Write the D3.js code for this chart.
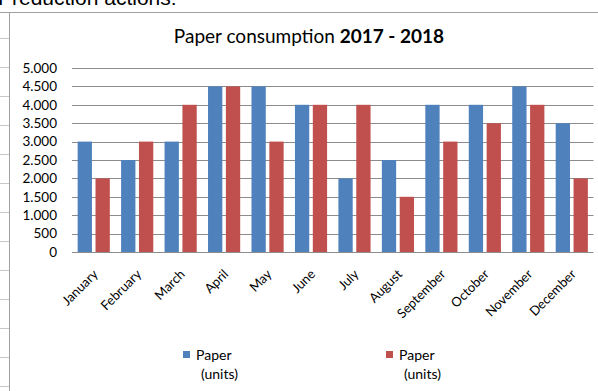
<!DOCTYPE html>
<html>
<head>
<meta charset="utf-8">
<script src="https://cdn.jsdelivr.net/npm/d3@7"></script>
<style>
  body { margin: 0; background: #fff; }
  svg { display: block; font-family: Lato, "Open Sans", sans-serif; }
</style>
</head>
<body>
<div id="chart"></div>
<script>
// Chart data
const months = ["January", "February", "March", "April", "May", "June",
                "July", "August", "September", "October", "November", "December"];
const seriesNames = ["Paper\n(units)", "Paper\n(units)"];
const paper2017 = [3000, 2500, 3000, 4500, 4500, 4000, 2000, 2500, 4000, 4000, 4500, 3500];
const paper2018 = [2000, 3000, 4000, 4500, 3000, 4000, 4000, 1500, 3000, 3500, 4000, 2000];
const yTicks = [0, 500, 1000, 1500, 2000, 2500, 3000, 3500, 4000, 4500, 5000];
const colors = ["#4F81BD", "#C0504D"];

const width = 598, height = 391;
const plot = { left: 72, right: 593.5, top: 68, bottom: 252 };

const svg = d3.select("#chart").append("svg")
    .attr("width", width)
    .attr("height", height);

// Surrounding document bits
svg.append("text")
    .attr("x", -2).attr("y", 5)
    .style("font-family", "'Liberation Sans', sans-serif")
    .style("font-size", "21px")
    .attr("fill", "#000")
    .text("Preduction actions:");

svg.append("g")
    .selectAll("line")
    .data(d3.range(38, 391, 29))
    .enter()
    .append("line")
    .attr("x1", 0).attr("x2", 9)
    .attr("y1", d => d + 0.5).attr("y2", d => d + 0.5)
    .attr("stroke", "#c8c8c8");

// Chart frame
svg.append("line")
    .attr("x1", 0).attr("x2", width)
    .attr("y1", 12.5).attr("y2", 12.5)
    .attr("stroke", "#a0a0a0");
svg.append("line")
    .attr("x1", 9.5).attr("x2", 9.5)
    .attr("y1", 12).attr("y2", height)
    .attr("stroke", "#a0a0a0");

// Title
const title = svg.append("text")
    .attr("x", 309).attr("y", 43)
    .attr("text-anchor", "middle")
    .style("font-size", "19px")
    .attr("fill", "#000");
title.append("tspan").text("Paper consumption ");
title.append("tspan").style("font-weight", "bold").text("2017 - 2018");

// Scales
const x = d3.scaleBand()
    .domain(months)
    .range([plot.left, plot.right])
    .paddingInner(0.26)
    .paddingOuter(0.13);

const xSub = d3.scaleBand()
    .domain([0, 1])
    .range([0, x.bandwidth()])
    .paddingInner(0.2);

const y = d3.scaleLinear()
    .domain([0, 5000])
    .range([plot.bottom, plot.top]);

const locale = d3.formatLocale({ decimal: ",", thousands: ".", grouping: [3], currency: ["", ""] });
const fmt = locale.format(",");

// Grid lines
svg.append("g")
    .selectAll("line")
    .data(yTicks)
    .enter()
    .append("line")
    .attr("x1", plot.left)
    .attr("x2", plot.right)
    .attr("y1", d => Math.round(y(d)) + 0.5)
    .attr("y2", d => Math.round(y(d)) + 0.5)
    .attr("stroke", "#8c8c8c")
    .attr("stroke-width", 1);

// Y axis labels
const yAxis = svg.append("g")
    .attr("transform", `translate(${plot.left},0)`)
    .call(d3.axisLeft(y).tickValues(yTicks).tickFormat(fmt).tickSize(0).tickPadding(15));
yAxis.select(".domain").remove();
yAxis.selectAll("text")
    .style("font-family", "Lato, sans-serif")
    .style("font-size", "13.5px")
    .attr("fill", "#000");

// Bars
const series = [paper2017, paper2018];
series.forEach((vals, i) => {
    svg.append("g")
        .selectAll("rect")
        .data(vals)
        .enter()
        .append("rect")
        .attr("x", (d, j) => x(months[j]) + xSub(i))
        .attr("y", d => y(d))
        .attr("width", xSub.bandwidth())
        .attr("height", d => plot.bottom - y(d))
        .attr("fill", colors[i]);
});

// X axis labels
const xAxis = svg.append("g")
    .attr("transform", `translate(0,${plot.bottom})`)
    .call(d3.axisBottom(x).tickSize(0).tickPadding(0));
xAxis.select(".domain").remove();
xAxis.selectAll("text")
    .style("font-family", "Lato, sans-serif")
    .style("font-size", "13px")
    .attr("fill", "#000")
    .attr("dy", 0)
    .attr("transform", "translate(5,23) rotate(-45)")
    .style("text-anchor", "end");

// Legend
const legendX = [183, 386];
seriesNames.forEach((name, i) => {
    const g = svg.append("g").attr("transform", `translate(${legendX[i]},351)`);
    g.append("rect")
        .attr("width", 7).attr("height", 7)
        .attr("fill", colors[i]);
    const t = g.append("text")
        .style("font-family", "Lato, sans-serif")
        .style("font-size", "14px")
        .attr("fill", "#000");
    name.split("\n").forEach((line, k) => {
        t.append("tspan")
            .attr("x", k === 0 ? 13 : 18)
            .attr("y", k === 0 ? 9 : 28)
            .text(line);
    });
});
</script>
</body>
</html>
